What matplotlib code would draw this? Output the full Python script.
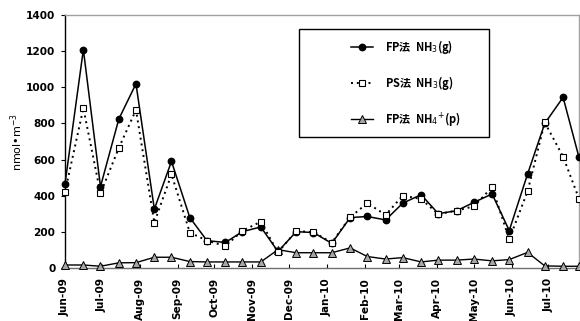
import matplotlib
matplotlib.use('Agg')
import numpy as np
import pandas as pd
import matplotlib.pyplot as plt
import matplotlib.dates as mdates
from matplotlib.patches import Rectangle

# 採取日 (約2週間ごと)
dates = ['2009-06-01', '2009-06-16', '2009-06-30', '2009-07-15', '2009-07-29',
         '2009-08-13', '2009-08-27', '2009-09-11', '2009-09-25', '2009-10-10',
         '2009-10-24', '2009-11-08', '2009-11-22', '2009-12-07', '2009-12-21',
         '2010-01-05', '2010-01-20', '2010-02-03', '2010-02-18', '2010-03-04',
         '2010-03-19', '2010-04-02', '2010-04-17', '2010-05-01', '2010-05-16',
         '2010-05-30', '2010-06-14', '2010-06-28', '2010-07-13', '2010-07-26']

fp_nh3 = [465, 1210, 450, 825, 1020, 325, 590, 278, 150, 140,
          200, 226, 90, 200, 195, 135, 278, 284, 265, 358,
          405, 300, 316, 362, 409, 206, 520, 800, 945, 612]
ps_nh3 = [420, 885, 412, 665, 875, 250, 518, 195, 150, 120,
          205, 255, 85, 204, 197, 139, 280, 358, 293, 400,
          381, 297, 317, 340, 446, 158, 424, 806, 616, 383]
fp_nh4 = [15, 15, 8, 27, 28, 58, 58, 34, 32, 32,
          32, 32, 100, 83, 83, 83, 110, 62, 48, 56,
          32, 42, 42, 48, 38, 45, 85, 10, 8, 8]

labels = ['FP法  NH$_3$(g)', 'PS法  NH$_3$(g)', 'FP法  NH$_4$$^{+}$(p)']

x = pd.to_datetime(dates)

fig = plt.figure(figsize=(5.8, 3.21), dpi=100)
ax = fig.add_axes([65/580, 1-267.7/321, (579-65)/580, (267.7-15.3)/321])

ax.plot(x, fp_nh3, color='black', lw=1.1, marker='o', ms=4.6, mfc='black',
        mec='black', clip_on=False, zorder=4, label=labels[0])
ax.plot(x, ps_nh3, color='black', lw=1.4, ls=(0, (1, 2)), marker='s', ms=5,
        mfc='white', mec='black', mew=0.8, clip_on=False, zorder=5, label=labels[1])
ax.plot(x, fp_nh4, color='black', lw=1.0, marker='^', ms=6, mfc='#a6a6a6',
        mec='black', mew=0.7, clip_on=False, zorder=3, label=labels[2])

ax.set_xlim(x[0], x[-1])
ax.set_ylim(0, 1400)
ax.set_yticks(np.arange(0, 1401, 200))
ax.xaxis.set_major_locator(mdates.MonthLocator())
ax.xaxis.set_major_formatter(mdates.DateFormatter('%b-%y'))

ax.tick_params(axis='y', direction='out', length=3, width=0.8, pad=4,
               labelsize=7.6)
ax.tick_params(axis='x', direction='in', length=3, width=0.8, pad=7.5,
               labelsize=7.6, labelrotation=90)
for t in ax.get_xticklabels() + ax.get_yticklabels():
    t.set_fontweight('bold')

ax.spines['left'].set_color('black')
ax.spines['bottom'].set_color('#707070')
ax.spines['top'].set_color('#a0a0a0')
ax.spines['right'].set_color('#a0a0a0')
for s in ax.spines.values():
    s.set_linewidth(1.0)

ax.set_ylabel('nmol•m$^{-3}$', fontsize=8)
ax.yaxis.set_label_coords(-0.078, 0.5)

# 凡例の枠
ax.add_artist(Rectangle((299/580, 1-136.7/321), 190/580, 107.7/321,
                        transform=fig.transFigure, facecolor='white',
                        edgecolor='black', lw=1.0, zorder=6))
leg = ax.legend(loc='upper left', bbox_to_anchor=(345/580, 1-32/321),
                bbox_transform=fig.transFigure, frameon=False, borderpad=0,
                handlelength=2.0, handletextpad=1.1, labelspacing=1.62,
                prop={'family': 'Noto Sans CJK JP', 'weight': 'bold', 'size': 8})
leg.set_zorder(7)

fig.savefig('out.png', dpi=100)
